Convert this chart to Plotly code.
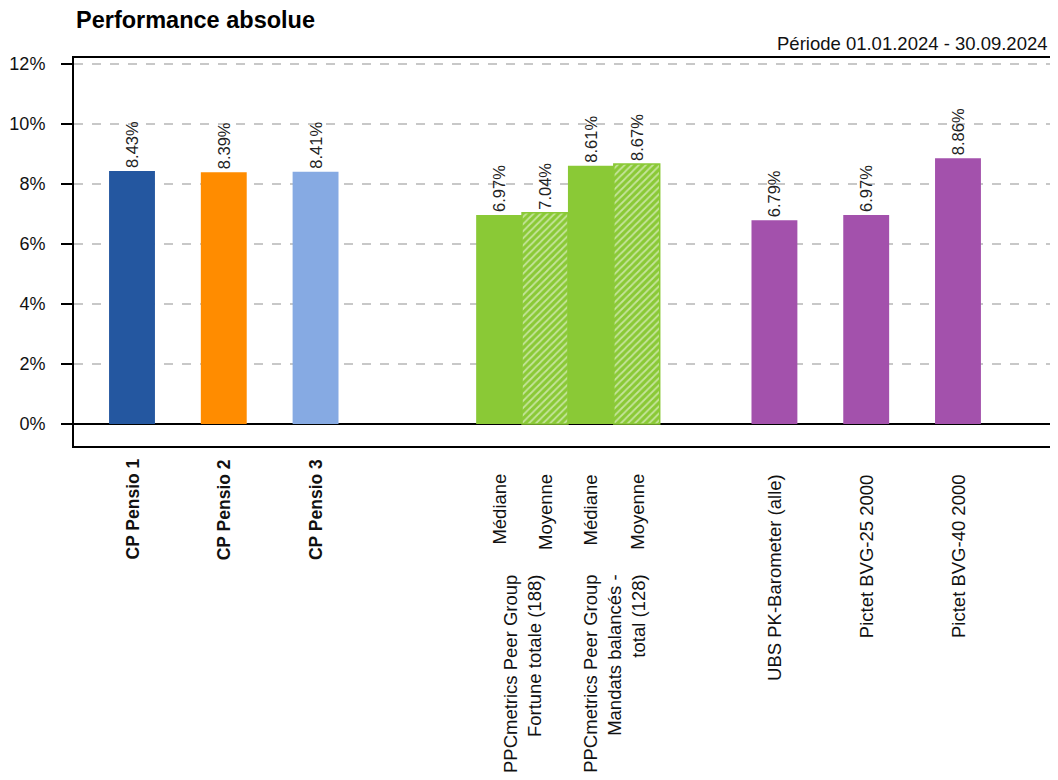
import plotly.graph_objects as go

# ---------------- data ----------------
cp_names = ["CP Pensio 1", "CP Pensio 2", "CP Pensio 3"]
cp_values = [8.43, 8.39, 8.41]

peer_groups = ["PPCmetrics Peer Group<br>Fortune totale (188)",
               "PPCmetrics Peer Group<br>Mandats balancés -<br>total (128)"]
median_label = "Médiane"
mean_label = "Moyenne"
peer_median = [6.97, 8.61]
peer_mean = [7.04, 8.67]

bench_names = ["UBS PK-Barometer (alle)", "Pictet BVG-25 2000", "Pictet BVG-40 2000"]
bench_values = [6.79, 6.97, 8.86]

title_text = "Performance absolue"
period_text = "Période 01.01.2024 - 30.09.2024"
y_ticks = [0, 2, 4, 6, 8, 10, 12]

# ---------------- layout / style ----------------
FONT = "Arial, Liberation Sans, sans-serif"
cp_colors = ["#2457A0", "#FF8C00", "#86AAE3"]
green = "#8AC936"
purple = "#A351AC"
BAR_W = 0.5

cp_x = [i for i in range(len(cp_names))]
peer_start = len(cp_names) + 1
peer_med_x = [peer_start + i for i in range(len(peer_groups))]
peer_mean_x = [x + BAR_W for x in peer_med_x]
bench_start = peer_start + len(peer_groups) + 1
bench_x = [bench_start + i for i in range(len(bench_names))]

def fmt(v):
    return [f"{x:.2f}%" for x in v]

txtfont = dict(family=FONT, size=16.5, color="#222222")

fig = go.Figure()
fig.add_trace(go.Bar(x=cp_x, y=cp_values, width=BAR_W, marker=dict(color=cp_colors, line=dict(width=0)),
                     text=fmt(cp_values), textposition="outside", textangle=-90, textfont=txtfont,
                     constraintext="none", cliponaxis=False))
fig.add_trace(go.Bar(x=peer_med_x, y=peer_median, width=BAR_W, marker=dict(color=green, line=dict(width=0)),
                     text=fmt(peer_median), textposition="outside", textangle=-90, textfont=txtfont,
                     constraintext="none", cliponaxis=False))
fig.add_trace(go.Bar(x=peer_mean_x, y=peer_mean, width=BAR_W,
                     marker=dict(color=green, line=dict(width=1.5, color=green),
                                 pattern=dict(shape="/", fgcolor="white", bgcolor=green, size=5, solidity=0.35)),
                     text=fmt(peer_mean), textposition="outside", textangle=-90, textfont=txtfont,
                     constraintext="none", cliponaxis=False))
fig.add_trace(go.Bar(x=bench_x, y=bench_values, width=BAR_W, marker=dict(color=purple, line=dict(width=0)),
                     text=fmt(bench_values), textposition="outside", textangle=-90, textfont=txtfont,
                     constraintext="none", cliponaxis=False))

ann = []
lblfont = dict(family=FONT, size=18.5, color="#111111")
boldfont = dict(family=FONT, size=17.5, color="#111111")
for x, n in zip(cp_x, cp_names):
    ann.append(dict(x=x, y=0, xref="x", yref="paper", text=f"<b>{n}</b>", textangle=-90,
                    xanchor="center", yanchor="top", yshift=-11, showarrow=False, font=boldfont))
for xm, xa, g in zip(peer_med_x, peer_mean_x, peer_groups):
    ann.append(dict(x=xm, y=0, xref="x", yref="paper", text=median_label, textangle=-90,
                    xanchor="center", yanchor="top", yshift=-26, showarrow=False, font=lblfont))
    ann.append(dict(x=xa, y=0, xref="x", yref="paper", text=mean_label, textangle=-90,
                    xanchor="center", yanchor="top", yshift=-26, showarrow=False, font=lblfont))
    ann.append(dict(x=(xm + xa) / 2, y=0, xref="x", yref="paper", text=g, textangle=-90, align="right",
                    xanchor="center", yanchor="top", yshift=-127, showarrow=False, font=lblfont))
for x, n in zip(bench_x, bench_names):
    ann.append(dict(x=x, y=0, xref="x", yref="paper", text=n, textangle=-90,
                    xanchor="center", yanchor="top", yshift=-26, showarrow=False, font=lblfont))

ann.append(dict(x=0, y=1, xref="paper", yref="paper", text=f"<b>{title_text}</b>", xanchor="left",
                yanchor="middle", yshift=38, xshift=1, showarrow=False, borderpad=0,
                font=dict(family=FONT, size=23.5, color="#000000")))
ann.append(dict(x=1, y=1, xref="paper", yref="paper", text=period_text, xanchor="right",
                yanchor="middle", yshift=15, xshift=-6, showarrow=False,
                font=dict(family=FONT, size=18.5, color="#111111")))

# page has an 8px body margin: compensate so the plot lands where it should
fig.update_layout(
    width=1050, height=764,
    margin=dict(l=66, r=0, t=50, b=326),
    plot_bgcolor="white", paper_bgcolor="white",
    showlegend=False, barmode="overlay",
    annotations=ann,
    font=dict(family=FONT, size=18, color="#111111"),
)
fig.update_xaxes(range=[-0.632, 10.068], showticklabels=False, showgrid=False, zeroline=False,
                 showline=True, linecolor="black", linewidth=2, mirror=True, ticks="")
fig.update_yaxes(range=[-0.733, 12.2], tickvals=y_ticks, ticktext=[f"{v}%" for v in y_ticks],
                 showgrid=True, gridcolor="#c8c8c8", gridwidth=1.5, griddash="dash",
                 zeroline=True, zerolinecolor="black", zerolinewidth=2,
                 showline=True, linecolor="black", linewidth=2, mirror=True,
                 ticks="outside", ticklen=11, tickwidth=2, tickcolor="black",
                 ticklabelstandoff=12, tickfont=dict(family=FONT, size=18, color="#111111"))

fig.write_html("out.html")
